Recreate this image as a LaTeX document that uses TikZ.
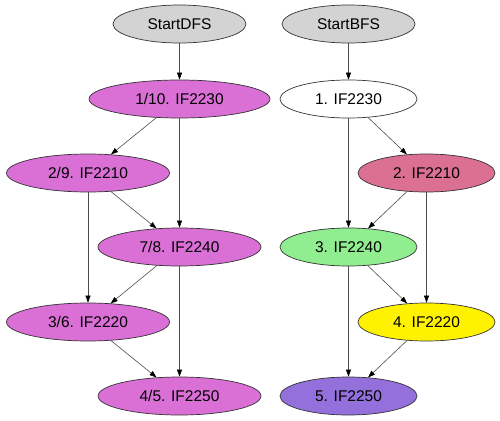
\documentclass[tikz,border=0pt]{standalone}
\usepackage{fontspec}
\setmainfont{Liberation Sans}
\usetikzlibrary{arrows.meta,shapes.geometric}
\definecolor{lgray}{HTML}{D3D3D3}
\definecolor{orchidc}{HTML}{DA70D6}
\definecolor{pvred}{HTML}{DB7093}
\definecolor{lgreen}{HTML}{90EE90}
\definecolor{mpurple}{HTML}{9370DB}
\tikzset{
  gnode/.style={ellipse, draw=black!80, line width=0.7pt, inner sep=0pt, minimum height=38pt, font=\fontsize{15.5}{18}\selectfont},
  wide/.style={minimum width=181pt},
  mid/.style={minimum width=163pt},
  narrow/.style={minimum width=137pt},
  startn/.style={minimum width=133pt, fill=lgray},
  conn/.style={draw=black!70, line width=0.6pt, -{Triangle[length=7pt,width=5pt,color=black,fill=black]}}
}
\begin{document}
\begin{tikzpicture}[x=1pt,y=-1pt]
\useasboundingbox (0,0) rectangle (500,420);
% DFS
\node[gnode,startn] (sd) at (179.5,24) {StartDFS};
\node[gnode,wide,fill=orchidc] (d1) at (179.5,99) {1/10. IF2230};
\node[gnode,mid,fill=orchidc] (d2) at (88,173) {2/9. IF2210};
\node[gnode,mid,fill=orchidc] (d3) at (179.5,247) {7/8. IF2240};
\node[gnode,mid,fill=orchidc] (d4) at (88,322) {3/6. IF2220};
\node[gnode,mid,fill=orchidc] (d5) at (179.5,396) {4/5. IF2250};
% BFS
\node[gnode,startn] (sb) at (348.5,24) {StartBFS};
\node[gnode,narrow,fill=white] (b1) at (348.5,99) {1. IF2230};
\node[gnode,narrow,fill=pvred] (b2) at (426.5,173) {2. IF2210};
\node[gnode,narrow,fill=lgreen] (b3) at (348.5,247) {3. IF2240};
\node[gnode,narrow,fill=yellow] (b4) at (426.5,322) {4. IF2220};
\node[gnode,narrow,fill=mpurple] (b5) at (348.5,396) {5. IF2250};
% DFS edges
\draw[conn] (sd) -- (d1);
\draw[conn] (d1) -- (d2);
\draw[conn] (d1) -- (d3);
\draw[conn] (d2) -- (d4);
\draw[conn] (d2) -- (d3);
\draw[conn] (d3) -- (d4);
\draw[conn] (d3) -- (d5);
\draw[conn] (d4) -- (d5);
% BFS edges
\draw[conn] (sb) -- (b1);
\draw[conn] (b1) -- (b2);
\draw[conn] (b1) -- (b3);
\draw[conn] (b2) -- (b3);
\draw[conn] (b2) -- (b4);
\draw[conn] (b3) -- (b4);
\draw[conn] (b3) -- (b5);
\draw[conn] (b4) -- (b5);
\end{tikzpicture}
\end{document}
